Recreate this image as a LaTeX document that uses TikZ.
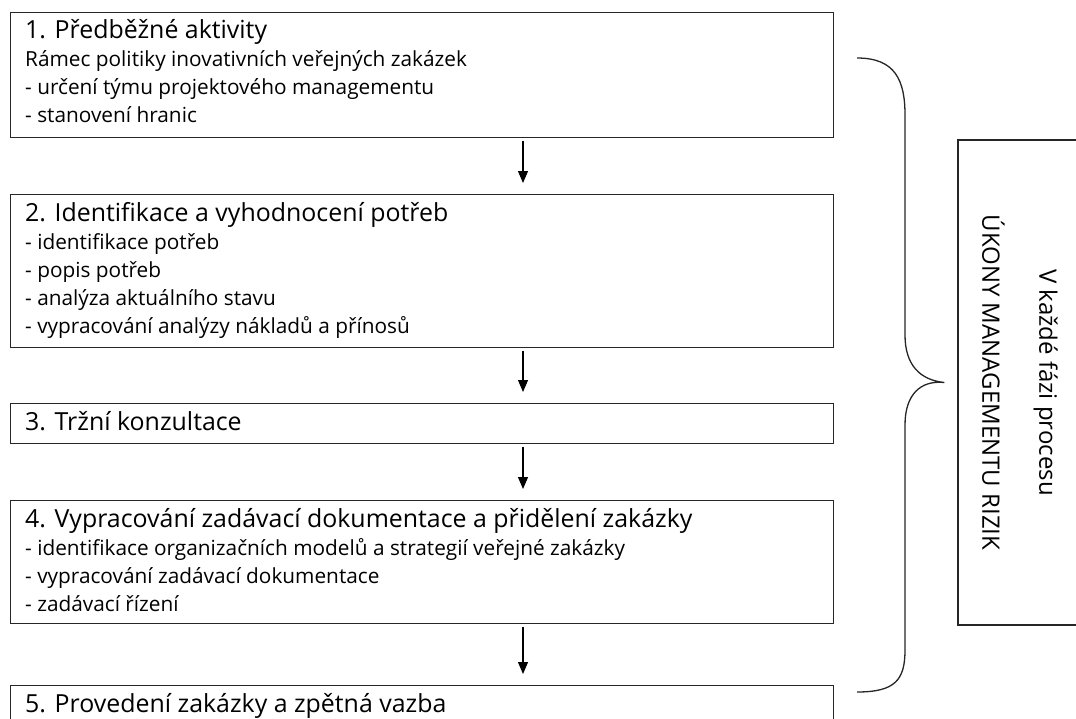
\documentclass[tikz,border=0pt]{standalone}
\usepackage{fontspec}
\setmainfont{Open Sans}
\usetikzlibrary{calc,positioning,arrows.meta}
\newcommand{\hd}[1]{{\fontsize{24.9}{28}\selectfont\rule{0pt}{21pt}#1}}

\begin{document}
\begin{tikzpicture}[x=1pt,y=-1pt,
 phase/.style={draw=black!85, line width=1.3pt, anchor=north west, minimum width=823pt, inner sep=0pt},
 lbl/.style={anchor=north west, align=left, inner sep=0pt, font=\fontsize{20.8}{28}\selectfont},
 flow/.style={-{Triangle[length=12pt,width=10pt]}, line width=1.1pt, shorten <=3pt, shorten >=11pt}]
\clip (0,0) rectangle (1076,718);
%phase boxes
\node[phase, minimum height=125pt] (b1) at (10,12) {};
\node[phase, minimum height=153pt] (b2) at (10,194) {};
\node[phase, minimum height=40pt] (b3) at (10,403) {};
\node[phase, minimum height=123pt] (b4) at (10,500) {};
\node[phase, minimum height=80pt] (b5) at (10,685) {};
%texts of the phases
\node[lbl] (t1) at ($(b1.north west)+(15,5)$) {\hd{1. Předběžné aktivity}\\
 Rámec politiky inovativních veřejných zakázek\\
 - určení týmu projektového managementu\\
 - stanovení hranic};
\node[lbl] (t2) at ($(b2.north west)+(15,6)$) {\hd{2. Identifikace a vyhodnocení potřeb}\\
 - identifikace potřeb\\
 - popis potřeb\\
 - analýza aktuálního stavu\\
 - vypracování analýzy nákladů a přínosů};
\node[lbl] (t3) at ($(b3.north west)+(15,6)$) {\hd{3. Tržní konzultace}};
\node[lbl] (t4) at ($(b4.north west)+(15,6)$) {\hd{4. Vypracování zadávací dokumentace a přidělení zakázky}\\
 - identifikace organizačních modelů a strategií veřejné zakázky\\
 - vypracování zadávací dokumentace\\
 - zadávací řízení};
\node[lbl] (t5) at ($(b5.north west)+(15,6)$) {\hd{5. Provedení zakázky a zpětná vazba}};
%arrows between phases
\foreach \i/\j in {b1/b2,b2/b3,b3/b4,b4/b5}{\draw[flow] ([xshift=513pt]\i.south west) -- ([xshift=513pt]\j.north west);}
%risk box and brace
\node[draw=black!85, line width=1.3pt, rotate=-90, minimum width=485pt, minimum height=124pt, align=center, font=\fontsize{24}{29}\selectfont] (risk) at (1020,382.5) {V každé fázi procesu\\[28pt]ÚKONY MANAGEMENTU RIZIK};
\coordinate (brtop) at (857,58);
\coordinate (brtip) at ([xshift=-13pt]risk.south);
\coordinate (brbot) at (857,692);
\draw[line width=1.3pt, black!85] (brtop) .. controls (895,58) and (905,80) .. (905,115) -- (905,335)
 .. controls (905,365) and (920,380) .. (brtip) .. controls (920,380) and (905,395) .. (905,425)
 -- (905,650) .. controls (905,680) and (895,692) .. (brbot);
\end{tikzpicture}
\end{document}
